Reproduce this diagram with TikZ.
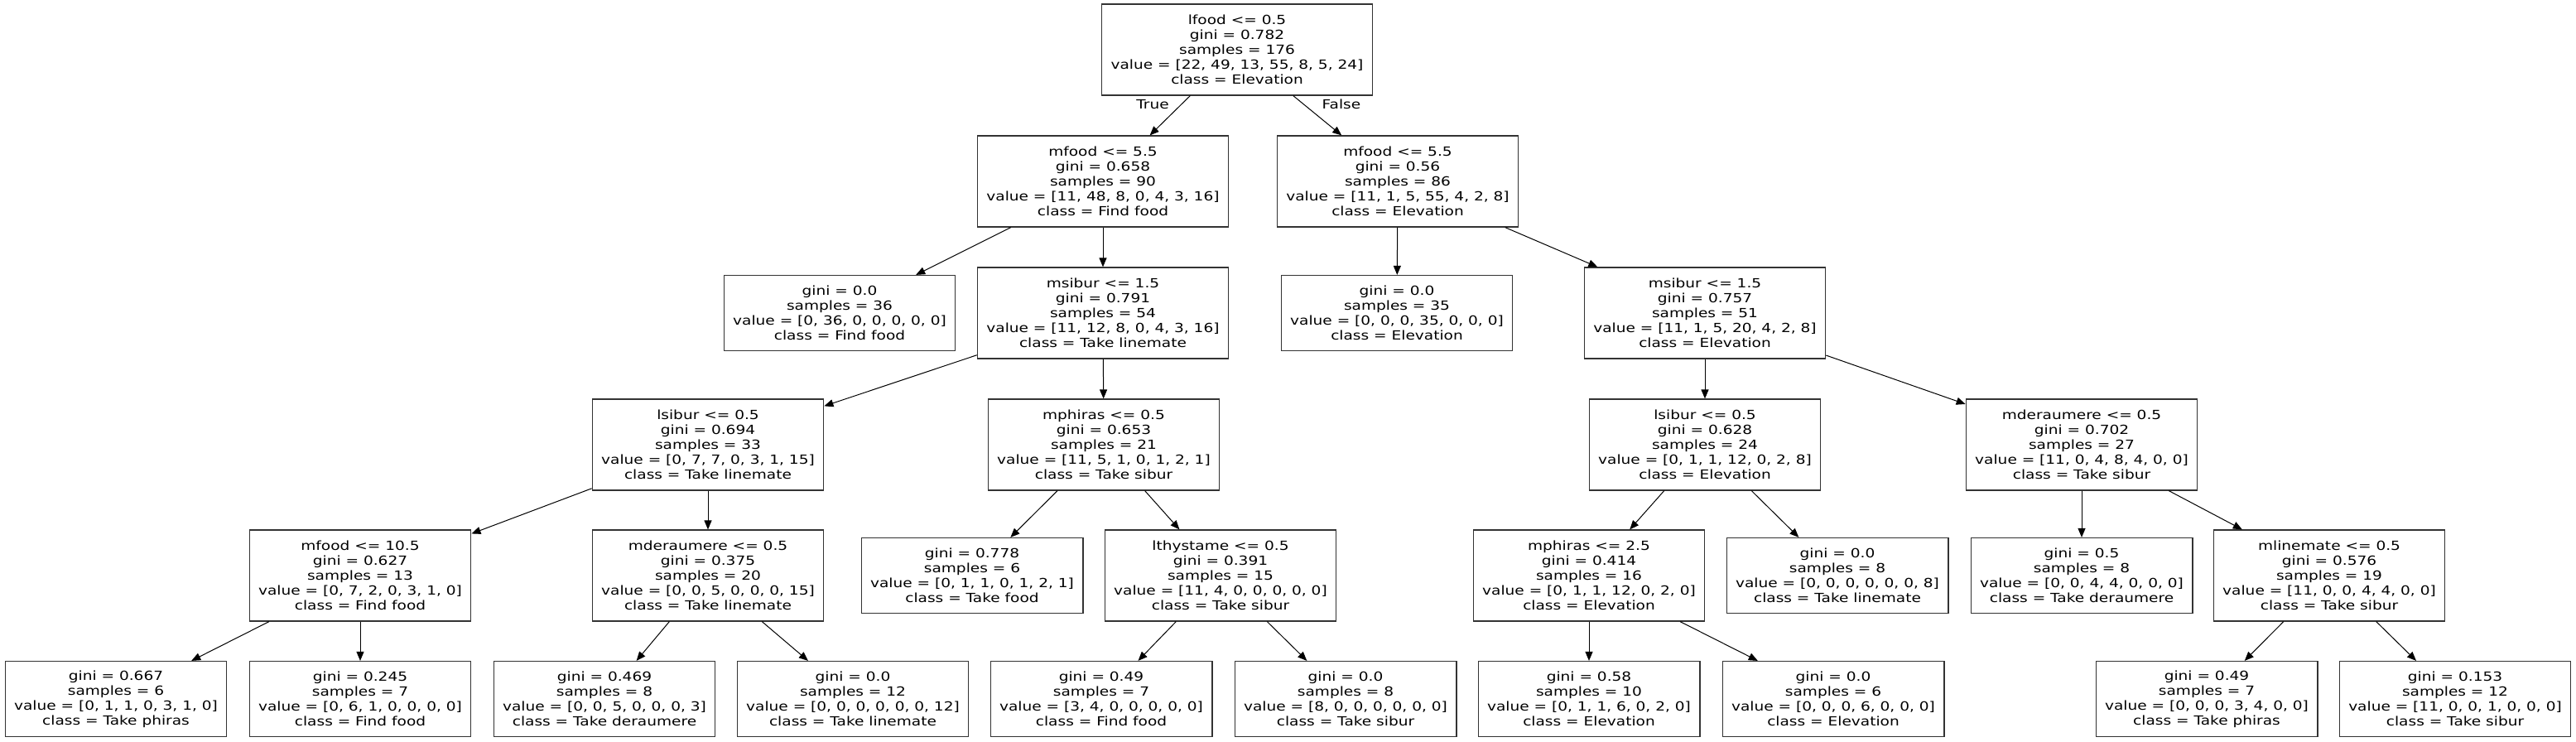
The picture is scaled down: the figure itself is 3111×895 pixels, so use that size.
\documentclass[tikz,border=0pt]{standalone}
\usepackage{fontspec}
\setmainfont{DejaVu Sans}[FakeStretch=1.22]
\usetikzlibrary{arrows.meta}
\tikzstyle{split} = [draw=black!80, line width=0.6pt, align=center, inner xsep=5.5pt, inner ysep=2pt, minimum height=55pt, font=\fontsize{7.6}{9}\selectfont]
\tikzstyle{leaf} = [split, minimum height=45.5pt]
\tikzstyle{lbl} = [font=\fontsize{7.6}{9}\selectfont, inner sep=0pt]
\tikzstyle{line} = [draw, line width=0.5pt, -{Triangle[length=5.5pt,width=4.5pt]}]

\begin{document}
\begin{tikzpicture}[x=0.5pt,y=-0.5pt]
\path [fill=white] (0,0) rectangle (3111,895);
\useasboundingbox (0,0) rectangle (3111,895);
% level 0
\node (lfood) at (1494,60) [split] {lfood <= 0.5\\gini = 0.782\\samples = 176\\value = [22, 49, 13, 55, 8, 5, 24]\\class = Elevation};
% level 1
\node (mfoodA) at (1332,219) [split] {mfood <= 5.5\\gini = 0.658\\samples = 90\\value = [11, 48, 8, 0, 4, 3, 16]\\class = Find food};
\node (mfoodB) at (1688,219) [split] {mfood <= 5.5\\gini = 0.56\\samples = 86\\value = [11, 1, 5, 55, 4, 2, 8]\\class = Elevation};
% level 2
\node (ffood36) at (1014,378) [leaf] {gini = 0.0\\samples = 36\\value = [0, 36, 0, 0, 0, 0, 0]\\class = Find food};
\node (msiburA) at (1332,378) [split] {msibur <= 1.5\\gini = 0.791\\samples = 54\\value = [11, 12, 8, 0, 4, 3, 16]\\class = Take linemate};
\node (elev35) at (1687,378) [leaf] {gini = 0.0\\samples = 35\\value = [0, 0, 0, 35, 0, 0, 0]\\class = Elevation};
\node (msiburB) at (2059,378) [split] {msibur <= 1.5\\gini = 0.757\\samples = 51\\value = [11, 1, 5, 20, 4, 2, 8]\\class = Elevation};
% level 3
\node (lsiburA) at (855,537) [split] {lsibur <= 0.5\\gini = 0.694\\samples = 33\\value = [0, 7, 7, 0, 3, 1, 15]\\class = Take linemate};
\node (mphirasA) at (1333,537) [split] {mphiras <= 0.5\\gini = 0.653\\samples = 21\\value = [11, 5, 1, 0, 1, 2, 1]\\class = Take sibur};
\node (lsiburB) at (2059,537) [split] {lsibur <= 0.5\\gini = 0.628\\samples = 24\\value = [0, 1, 1, 12, 0, 2, 8]\\class = Elevation};
\node (mderB) at (2514,537) [split] {mderaumere <= 0.5\\gini = 0.702\\samples = 27\\value = [11, 0, 4, 8, 4, 0, 0]\\class = Take sibur};
% level 4
\node (mfoodC) at (435,695) [split] {mfood <= 10.5\\gini = 0.627\\samples = 13\\value = [0, 7, 2, 0, 3, 1, 0]\\class = Find food};
\node (mderA) at (855,695) [split] {mderaumere <= 0.5\\gini = 0.375\\samples = 20\\value = [0, 0, 5, 0, 0, 0, 15]\\class = Take linemate};
\node (tfood6) at (1174,695) [leaf] {gini = 0.778\\samples = 6\\value = [0, 1, 1, 0, 1, 2, 1]\\class = Take food};
\node (lthy) at (1474,695) [split] {lthystame <= 0.5\\gini = 0.391\\samples = 15\\value = [11, 4, 0, 0, 0, 0, 0]\\class = Take sibur};
\node (mphirasB) at (1919,695) [split] {mphiras <= 2.5\\gini = 0.414\\samples = 16\\value = [0, 1, 1, 12, 0, 2, 0]\\class = Elevation};
\node (tline8) at (2219,695) [leaf] {gini = 0.0\\samples = 8\\value = [0, 0, 0, 0, 0, 0, 8]\\class = Take linemate};
\node (tder8) at (2514,695) [leaf] {gini = 0.5\\samples = 8\\value = [0, 0, 4, 4, 0, 0, 0]\\class = Take deraumere};
\node (mline) at (2813,695) [split] {mlinemate <= 0.5\\gini = 0.576\\samples = 19\\value = [11, 0, 0, 4, 4, 0, 0]\\class = Take sibur};
% level 5
\node (tphir6) at (140,844) [leaf] {gini = 0.667\\samples = 6\\value = [0, 1, 1, 0, 3, 1, 0]\\class = Take phiras};
\node (ffood7) at (435,844) [leaf] {gini = 0.245\\samples = 7\\value = [0, 6, 1, 0, 0, 0, 0]\\class = Find food};
\node (tderA8) at (730,844) [leaf] {gini = 0.469\\samples = 8\\value = [0, 0, 5, 0, 0, 0, 3]\\class = Take deraumere};
\node (tline12) at (1030,844) [leaf] {gini = 0.0\\samples = 12\\value = [0, 0, 0, 0, 0, 0, 12]\\class = Take linemate};
\node (ffood7b) at (1330,844) [leaf] {gini = 0.49\\samples = 7\\value = [3, 4, 0, 0, 0, 0, 0]\\class = Find food};
\node (tsib8) at (1625,844) [leaf] {gini = 0.0\\samples = 8\\value = [8, 0, 0, 0, 0, 0, 0]\\class = Take sibur};
\node (elev10) at (1919,844) [leaf] {gini = 0.58\\samples = 10\\value = [0, 1, 1, 6, 0, 2, 0]\\class = Elevation};
\node (elev6) at (2214,844) [leaf] {gini = 0.0\\samples = 6\\value = [0, 0, 0, 6, 0, 0, 0]\\class = Elevation};
\node (tphir7) at (2665,844) [leaf] {gini = 0.49\\samples = 7\\value = [0, 0, 0, 3, 4, 0, 0]\\class = Take phiras};
\node (tsib12) at (2965,844) [leaf] {gini = 0.153\\samples = 12\\value = [11, 0, 0, 1, 0, 0, 0]\\class = Take sibur};
% edge labels
\node (truelbl) at (1392,126) [lbl] {True};
\node (falselbl) at (1620,126) [lbl] {False};
% draw lines
\path [line] (lfood) -- (mfoodA);
\path [line] (lfood) -- (mfoodB);
\path [line] (mfoodA) -- (ffood36);
\path [line] (mfoodA) -- (msiburA);
\path [line] (mfoodB) -- (elev35);
\path [line] (mfoodB) -- (msiburB);
\path [line] (msiburA) -- (lsiburA);
\path [line] (msiburA) -- (mphirasA);
\path [line] (msiburB) -- (lsiburB);
\path [line] (msiburB) -- (mderB);
\path [line] (lsiburA) -- (mfoodC);
\path [line] (lsiburA) -- (mderA);
\path [line] (mphirasA) -- (tfood6);
\path [line] (mphirasA) -- (lthy);
\path [line] (lsiburB) -- (mphirasB);
\path [line] (lsiburB) -- (tline8);
\path [line] (mderB) -- (tder8);
\path [line] (mderB) -- (mline);

\path [line] (mfoodC) -- (tphir6);
\path [line] (mfoodC) -- (ffood7);
\path [line] (mderA) -- (tderA8);
\path [line] (mderA) -- (tline12);
\path [line] (lthy) -- (ffood7b);
\path [line] (lthy) -- (tsib8);
\path [line] (mphirasB) -- (elev10);
\path [line] (mphirasB) -- (elev6);
\path [line] (mline) -- (tphir7);
\path [line] (mline) -- (tsib12);
\end{tikzpicture}
\end{document}
